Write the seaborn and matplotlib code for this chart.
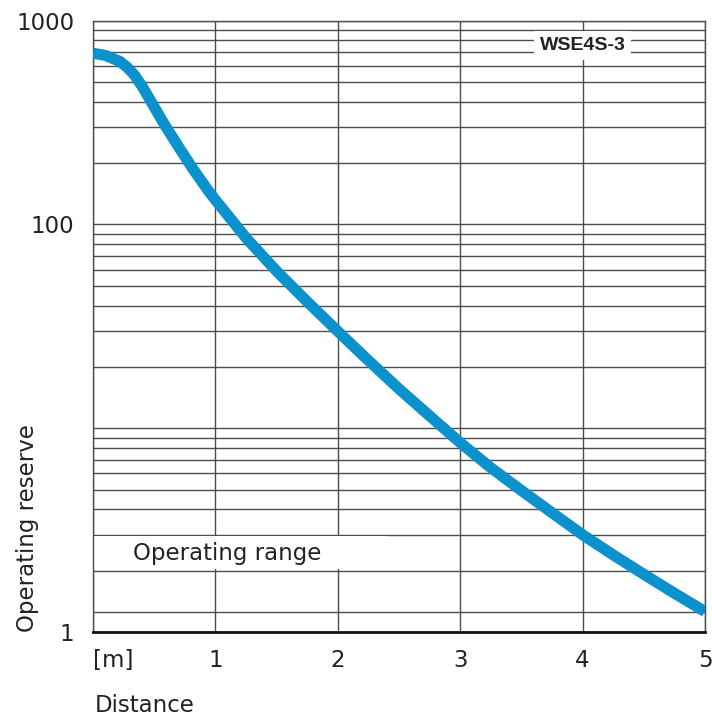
import numpy as np
import pandas as pd
import matplotlib
matplotlib.use("Agg")
import matplotlib.pyplot as plt
import seaborn as sns
from matplotlib.ticker import FixedLocator, NullFormatter

# ---- data ----
distance_m = [0, 0.1, 0.22, 0.28, 0.34, 0.40, 0.46, 0.58, 0.70, 0.82, 0.94, 1.0,
              1.25, 1.5, 1.75, 2.0, 2.25, 2.5, 2.75, 3.0, 3.25, 3.5, 3.75, 4.0,
              4.25, 4.5, 4.75, 5.0]
operating_reserve = [692, 676, 631, 590, 540, 478, 415, 312, 240, 186, 147, 132,
                     86, 59, 41.8, 29.9, 21.5, 15.6, 11.5, 8.5, 6.4, 4.95, 3.85,
                     3.0, 2.39, 1.92, 1.55, 1.26]

x_ticks = [0, 1, 2, 3, 4, 5]
x_tick_labels = ["[m]", "1", "2", "3", "4", "5"]
y_ticks = [1, 100, 1000]
y_tick_labels = ["1", "100", "1000"]
curve_label = "WSE4S-3"
range_label = "Operating range"
x_title = "Distance"
y_title = "Operating reserve"

# ---- style ----
sns.set_style("white")
plt.rcParams['font.family'] = ['DejaVu Sans']
grid_c = "#4d4d4d"
curve_c = "#0b92cc"

fig = plt.figure(figsize=(7.12, 7.19), dpi=100)
ax = fig.add_axes([93 / 712, 1 - 632 / 719, (705 - 93) / 712, (632 - 20.7) / 719])

df = pd.DataFrame({"Distance": distance_m, "Reserve": operating_reserve})
sns.lineplot(data=df, x="Distance", y="Reserve", ax=ax, color=curve_c,
             lw=8, solid_capstyle="butt", solid_joinstyle="round", zorder=4)

ax.set_yscale("log")
ax.set_xlim(0, 5)
ax.set_ylim(1, 1000)
ax.set_xlabel("")
ax.set_ylabel("")

ax.set_xticks(x_ticks)
ax.set_xticklabels(x_tick_labels, fontsize=16.5, color="#222222")
ax.get_xticklabels()[0].set_ha("left")
ax.set_yticks(y_ticks)
ax.set_yticklabels(y_tick_labels, fontsize=16.5, color="#222222")
minor_vals = [m * d for d in (1, 10, 100) for m in range(2, 10)] + [10]
ax.yaxis.set_minor_locator(FixedLocator(minor_vals))
ax.yaxis.set_minor_formatter(NullFormatter())
ax.tick_params(axis="x", which="both", length=0, pad=12)
ax.tick_params(axis="y", which="both", length=0, pad=13.5)

ax.set_axisbelow(True)
ax.grid(True, which="both", axis="y", color=grid_c, lw=1.0)
ax.grid(True, which="major", axis="x", color=grid_c, lw=1.0)
ax.axhline(1.26, color=grid_c, lw=1.0, zorder=0.6)

for s in ("left", "top", "right"):
    ax.spines[s].set_color(grid_c)
    ax.spines[s].set_linewidth(1.0)
ax.spines["bottom"].set_color("#111111")
ax.spines["bottom"].set_linewidth(2.0)

# white band behind "Operating range"
ax.axhspan(2.03, 2.95, xmin=0, xmax=0.48, fc="white", ec="none", zorder=1)
ax.text(0.33, 2.42, range_label, ha="left", va="center", fontsize=16.5,
        color="#222222", zorder=3)

ax.text(4, 755, curve_label, ha="center", va="center", fontsize=14,
        fontweight="bold", family="Liberation Sans", color="#222222", zorder=5,
        bbox=dict(fc="white", ec="none", pad=4))

fig.text(95 / 712, 1 - 712 / 719, x_title, ha="left", va="baseline",
         fontsize=16.5, color="#222222")
fig.text(34 / 712, 1 - 632 / 719, y_title, rotation=90, rotation_mode="anchor",
         ha="left", va="baseline", fontsize=16.5, color="#222222")

fig.savefig("out.png", dpi=100)
